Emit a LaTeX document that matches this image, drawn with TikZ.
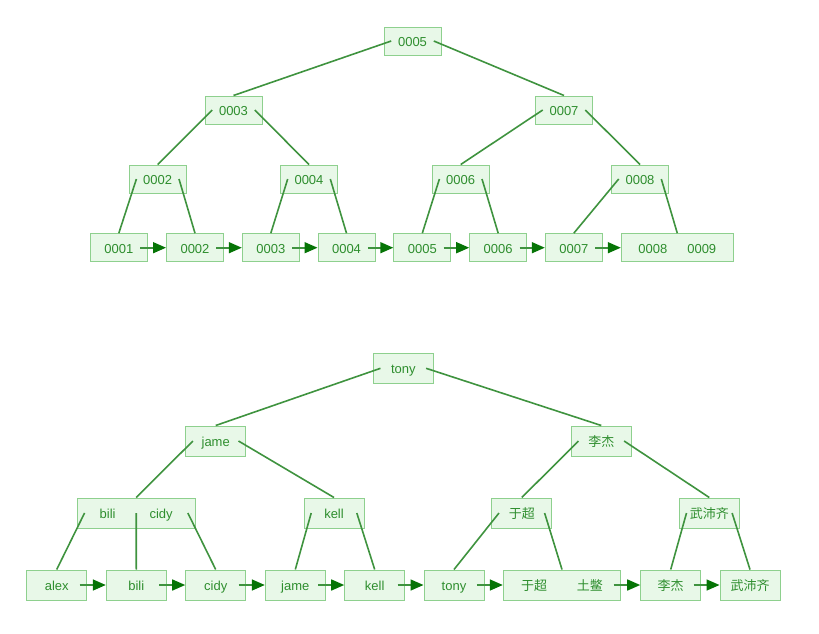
\documentclass[tikz,border=0pt]{standalone}
\usepackage{fontspec}
\setmainfont{Liberation Sans}
\newfontfamily\cjk{Noto Sans CJK SC}
\usetikzlibrary{calc,arrows.meta}
\definecolor{boxfill}{HTML}{E8F8E8}
\definecolor{boxdraw}{HTML}{8ED08E}
\definecolor{txt}{HTML}{2E8E2E}
\definecolor{edge}{HTML}{3F933F}
\definecolor{tip}{HTML}{067406}
\tikzset{
  key/.style={draw=boxdraw, fill=boxfill, line width=1pt, text=txt, font=\fontsize{13}{15}\selectfont,
    inner sep=0pt, minimum width=57pt, minimum height=28pt, text height=10.8pt, text depth=0pt},
  keyb/.style={key, minimum width=60pt, minimum height=30pt},
  edgeline/.style={draw=edge, line width=1.6pt},
  nextarrow/.style={draw=edge, line width=1.6pt, -{Triangle[length=13pt,width=11pt,fill=tip,color=tip]}},
}
\newcommand{\lft}[1]{($(#1.west)+(7.7,0)$)}
\newcommand{\rgt}[1]{($(#1.east)+(-7.7,0)$)}
\begin{document}
\begin{tikzpicture}[x=1pt,y=-1pt]
\useasboundingbox (0,0) rectangle (819,633);
% ---------- top tree ----------
\node[key] (r5) at (412.5,41) {0005};
\node[key] (i3) at (233.5,110) {0003};
\node[key] (i7) at (564,110) {0007};
\node[key] (i2) at (157.7,179) {0002};
\node[key] (i4) at (309,179) {0004};
\node[key] (i6) at (460.7,179) {0006};
\node[key] (i8) at (640,179) {0008};
\node[key] (l1) at (118.8,247.7) {0001};
\node[key] (l2) at (195,247.7) {0002};
\node[key] (l3) at (270.8,247.7) {0003};
\node[key] (l4) at (346.5,247.7) {0004};
\node[key] (l5) at (422.3,247.7) {0005};
\node[key] (l6) at (498.2,247.7) {0006};
\node[key] (l7) at (573.8,247.7) {0007};
\node[key, minimum width=112pt] (l8) at (677.3,247.7) {0008\hspace{20pt}0009};

\draw[edgeline] \lft{r5} -- (i3.north);
\draw[edgeline] \rgt{r5} -- (i7.north);
\draw[edgeline] \lft{i3} -- (i2.north);
\draw[edgeline] \rgt{i3} -- (i4.north);
\draw[edgeline] \lft{i7} -- (i6.north);
\draw[edgeline] \rgt{i7} -- (i8.north);
\draw[edgeline] \lft{i2} -- (l1.north);
\draw[edgeline] \rgt{i2} -- (l2.north);
\draw[edgeline] \lft{i4} -- (l3.north);
\draw[edgeline] \rgt{i4} -- (l4.north);
\draw[edgeline] \lft{i6} -- (l5.north);
\draw[edgeline] \rgt{i6} -- (l6.north);
\draw[edgeline] \lft{i8} -- (l7.north);
\draw[edgeline] \rgt{i8} -- (l8.north);

\foreach \a/\b in {l1/l2,l2/l3,l3/l4,l4/l5,l5/l6,l6/l7,l7/l8}
  \draw[nextarrow] \rgt{\a} -- (\b.west);

% ---------- bottom tree ----------
\node[keyb] (tony) at (403.3,368.3) {tony};
\node[keyb] (jame) at (215.7,441) {jame};
\node[keyb] (lj) at (601.3,441) {\cjk 李杰};
\node[keyb, minimum width=117.7pt] (bc) at (136.2,513) {bili\hspace{34pt}cidy};
\node[keyb] (kell) at (334,513) {kell};
\node[keyb] (yc) at (521.8,513) {\cjk 于超};
\node[keyb] (wpq) at (709.3,513) {\cjk 武沛齐};
\node[keyb] (b1) at (56.7,585) {alex};
\node[keyb] (b2) at (136.3,585) {bili};
\node[keyb] (b3) at (215.7,585) {cidy};
\node[keyb] (b4) at (295.3,585) {jame};
\node[keyb] (b5) at (374.7,585) {kell};
\node[keyb] (b6) at (454,585) {tony};
\node[keyb, minimum width=117.4pt] (b7) at (562,585) {\cjk 于超\hspace{30pt}土鳖};
\node[keyb] (b8) at (670.7,585) {\cjk 李杰};
\node[keyb] (b9) at (750,585) {\cjk 武沛齐};

\draw[edgeline] \lft{tony} -- (jame.north);
\draw[edgeline] \rgt{tony} -- (lj.north);
\draw[edgeline] \lft{jame} -- (bc.north);
\draw[edgeline] \rgt{jame} -- (kell.north);
\draw[edgeline] \lft{lj} -- (yc.north);
\draw[edgeline] \rgt{lj} -- (wpq.north);
\draw[edgeline] \lft{bc} -- (b1.north);
\draw[edgeline] (bc.center) -- (b2.north);
\draw[edgeline] \rgt{bc} -- (b3.north);
\draw[edgeline] \lft{kell} -- (b4.north);
\draw[edgeline] \rgt{kell} -- (b5.north);
\draw[edgeline] \lft{yc} -- (b6.north);
\draw[edgeline] \rgt{yc} -- (b7.north);
\draw[edgeline] \lft{wpq} -- (b8.north);
\draw[edgeline] \rgt{wpq} -- (b9.north);

\foreach \a/\b in {b1/b2,b2/b3,b3/b4,b4/b5,b5/b6,b6/b7,b7/b8,b8/b9}
  \draw[nextarrow] \rgt{\a} -- (\b.west);
\end{tikzpicture}
\end{document}
